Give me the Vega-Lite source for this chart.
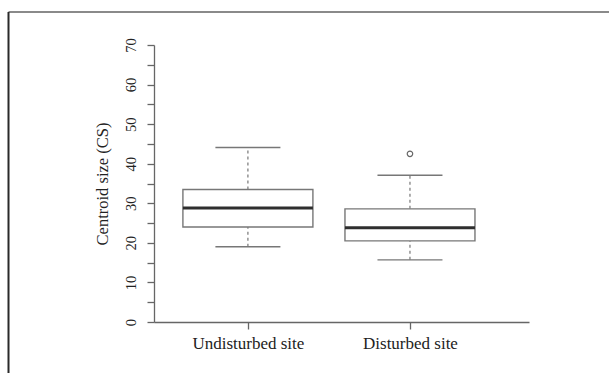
{
  "$schema": "https://vega.github.io/schema/vega-lite/v6.json",
  "autosize": "none",
  "width": 375,
  "height": 277,
  "padding": {"left": 154, "top": 45, "right": 80, "bottom": 51},
  "background": "white",
  "config": {
    "view": {"stroke": null},
    "font": "Liberation Serif",
    "axisY": {
      "titleFontSize": 16.5,
      "titleFontWeight": "normal",
      "titleColor": "#222",
      "titleBaseline": "alphabetic",
      "titleAngle": -90,
      "titleX": -47,
      "titleY": 138.5,
      "labelOverlap": false,
      "labelAngle": -90,
      "labelAlign": "center",
      "labelBaseline": "alphabetic",
      "labelPadding": 12,
      "labelFontSize": 14.5,
      "labelColor": "#222",
      "tickSize": 7,
      "tickColor": "#666",
      "tickWidth": 1.3,
      "domainColor": "#666",
      "domainWidth": 1.3,
      "grid": false
    },
    "axisX": {
      "labelAngle": 0,
      "labelFontSize": 17,
      "labelColor": "#222",
      "labelBaseline": "alphabetic",
      "labelPadding": 19,
      "tickSize": 7,
      "tickColor": "#666",
      "tickWidth": 1.3,
      "domainColor": "#666",
      "domainWidth": 1.3,
      "grid": false
    }
  },
  "datasets": {
    "stats": [
      {"site": "Undisturbed site", "lower": 19.0, "q1": 24.0, "median": 28.8, "q3": 33.5, "upper": 44.1},
      {"site": "Disturbed site", "lower": 15.7, "q1": 20.5, "median": 23.8, "q3": 28.6, "upper": 37.1}
    ],
    "outliers": [
      {"site": "Disturbed site", "value": 42.5}
    ],
    "frame": [{"edge": "frame"}]
  },
  "resolve": {"scale": {"x": "independent", "y": "independent"}, "axis": {"x": "independent", "y": "independent"}},
  "layer": [
    {
      "data": {"name": "frame"},
      "layer": [
        {
          "mark": {"type": "rule", "color": "#8a8a8a", "strokeWidth": 2, "clip": false},
          "encoding": {
            "x": {"datum": -0.388, "type": "quantitative", "scale": {"domain": [0, 1]}, "axis": null},
            "x2": {"datum": 1.4},
            "y": {"datum": 78.34, "type": "quantitative", "scale": {"domain": [0, 70], "nice": false, "zero": false}, "axis": null}
          }
        },
        {
          "mark": {"type": "rule", "color": "#2a2a2a", "strokeWidth": 2, "clip": false},
          "encoding": {
            "x": {"datum": -0.388, "type": "quantitative", "scale": {"domain": [0, 1]}, "axis": null},
            "y": {"datum": 78.34, "type": "quantitative", "scale": {"domain": [0, 70], "nice": false, "zero": false}, "axis": null},
            "y2": {"datum": -16}
          }
        }
      ]
    },
    {
      "encoding": {
        "x": {
          "field": "site",
          "type": "nominal",
          "sort": ["Undisturbed site", "Disturbed site"],
          "scale": {"type": "point", "domain": ["Undisturbed site", "Disturbed site"], "padding": 0.657, "align": 0.441},
          "axis": {"title": null}
        }
      },
      "layer": [
        {
          "data": {"name": "stats"},
          "mark": {"type": "rule", "color": "#777", "strokeWidth": 1.2, "strokeDash": [3, 3]},
          "encoding": {
            "y": {
              "field": "q3", "type": "quantitative",
              "scale": {"domain": [0, 70], "nice": false, "zero": false},
              "axis": {"title": "Centroid size (CS)", "values": [0, 5, 10, 15, 20, 25, 30, 35, 40, 45, 50, 55, 60, 65, 70], "labelExpr": "datum.value % 10 == 0 ? datum.label : ''"}
            },
            "y2": {"field": "upper"}
          }
        },
        {
          "data": {"name": "stats"},
          "mark": {"type": "rule", "color": "#777", "strokeWidth": 1.2, "strokeDash": [3, 3]},
          "encoding": {
            "y": {
              "field": "lower", "type": "quantitative",
              "scale": {"domain": [0, 70], "nice": false, "zero": false},
              "axis": {"title": "Centroid size (CS)", "values": [0, 5, 10, 15, 20, 25, 30, 35, 40, 45, 50, 55, 60, 65, 70], "labelExpr": "datum.value % 10 == 0 ? datum.label : ''"}
            },
            "y2": {"field": "q1"}
          }
        },
        {
          "data": {"name": "stats"},
          "mark": {"type": "bar", "size": 130, "fill": "white", "stroke": "#777", "strokeWidth": 1.4},
          "encoding": {
            "y": {
              "field": "q1", "type": "quantitative",
              "scale": {"domain": [0, 70], "nice": false, "zero": false},
              "axis": {"title": "Centroid size (CS)", "values": [0, 5, 10, 15, 20, 25, 30, 35, 40, 45, 50, 55, 60, 65, 70], "labelExpr": "datum.value % 10 == 0 ? datum.label : ''"}
            },
            "y2": {"field": "q3"}
          }
        },
        {
          "data": {"name": "stats"},
          "mark": {"type": "tick", "size": 130, "thickness": 3, "color": "#2e2e2e", "opacity": 1},
          "encoding": {
            "y": {
              "field": "median", "type": "quantitative",
              "scale": {"domain": [0, 70], "nice": false, "zero": false},
              "axis": {"title": "Centroid size (CS)", "values": [0, 5, 10, 15, 20, 25, 30, 35, 40, 45, 50, 55, 60, 65, 70], "labelExpr": "datum.value % 10 == 0 ? datum.label : ''"}
            }
          }
        },
        {
          "data": {"name": "stats"},
          "mark": {"type": "tick", "size": 65, "thickness": 1.4, "color": "#777", "opacity": 1},
          "encoding": {
            "y": {
              "field": "upper", "type": "quantitative",
              "scale": {"domain": [0, 70], "nice": false, "zero": false},
              "axis": {"title": "Centroid size (CS)", "values": [0, 5, 10, 15, 20, 25, 30, 35, 40, 45, 50, 55, 60, 65, 70], "labelExpr": "datum.value % 10 == 0 ? datum.label : ''"}
            }
          }
        },
        {
          "data": {"name": "stats"},
          "mark": {"type": "tick", "size": 65, "thickness": 1.4, "color": "#777", "opacity": 1},
          "encoding": {
            "y": {
              "field": "lower", "type": "quantitative",
              "scale": {"domain": [0, 70], "nice": false, "zero": false},
              "axis": {"title": "Centroid size (CS)", "values": [0, 5, 10, 15, 20, 25, 30, 35, 40, 45, 50, 55, 60, 65, 70], "labelExpr": "datum.value % 10 == 0 ? datum.label : ''"}
            }
          }
        },
        {
          "data": {"name": "outliers"},
          "mark": {"type": "point", "shape": "circle", "size": 30, "filled": false, "stroke": "#666", "strokeWidth": 1.2, "opacity": 1},
          "encoding": {
            "y": {
              "field": "value", "type": "quantitative",
              "scale": {"domain": [0, 70], "nice": false, "zero": false},
              "axis": {"title": "Centroid size (CS)", "values": [0, 5, 10, 15, 20, 25, 30, 35, 40, 45, 50, 55, 60, 65, 70], "labelExpr": "datum.value % 10 == 0 ? datum.label : ''"}
            }
          }
        }
      ]
    }
  ]
}
